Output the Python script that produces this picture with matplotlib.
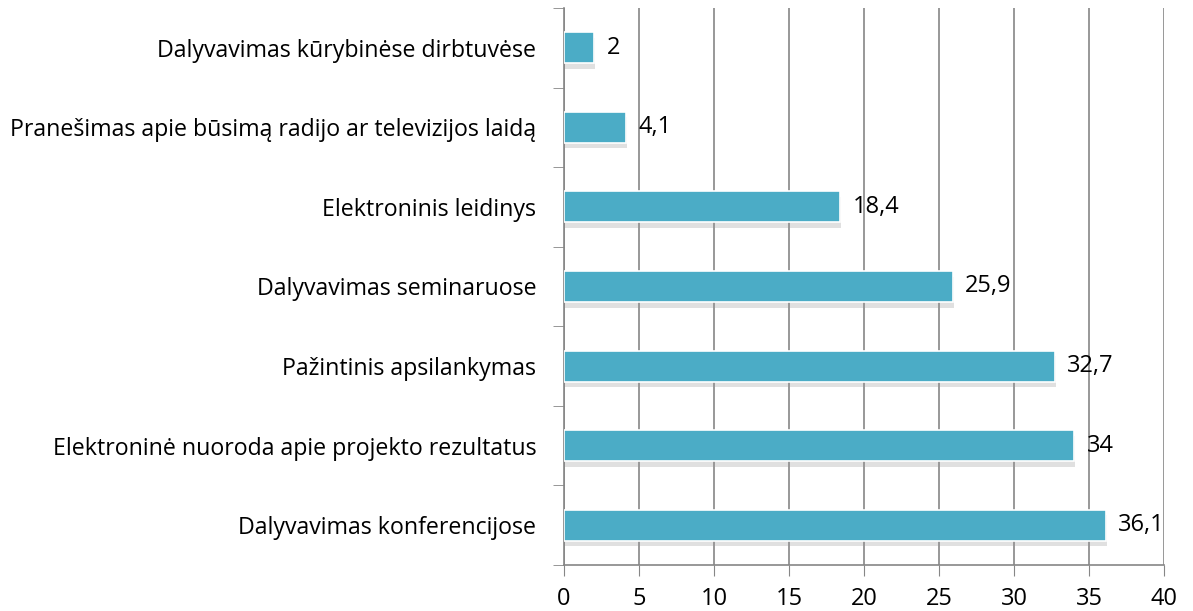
import numpy as np
import matplotlib.pyplot as plt
import matplotlib.patheffects as pe

plt.rcParams['font.family'] = ['Open Sans', 'DejaVu Sans']

categories = ['Dalyvavimas konferencijose',
              'Elektroninė nuoroda apie projekto rezultatus',
              'Pažintinis apsilankymas',
              'Dalyvavimas seminaruose',
              'Elektroninis leidinys',
              'Pranešimas apie būsimą radijo ar televizijos laidą',
              'Dalyvavimas kūrybinėse dirbtuvėse']
values = [36.1, 34, 32.7, 25.9, 18.4, 4.1, 2]
value_labels = ['36,1', '34', '32,7', '25,9', '18,4', '4,1', '2']

fig = plt.figure(figsize=(11.93, 6.11), dpi=100)
ax = fig.add_axes([0.4728, 0.0753, 0.5029, 0.9117])

y = np.arange(len(categories))
bars = ax.barh(y, values, height=0.39, color='#4BACC6', edgecolor='white',
               linewidth=1.2, zorder=3)
for b in bars:
    b.set_path_effects([pe.SimplePatchShadow(offset=(1, -4), shadow_rgbFace='#999999', alpha=0.3),
                        pe.Normal()])

for yi, v, lab in zip(y, values, value_labels):
    ax.text(v + 0.85, yi, lab, va='center', ha='left', fontsize=17, zorder=4)

ax.set_xlim(0, 40)
ax.set_ylim(-0.5, len(categories) - 0.5)
ax.set_xticks(range(0, 41, 5))
ax.set_yticks(y)
ax.set_yticklabels(categories, fontsize=16.7)
ax.set_yticks(np.arange(-0.5, len(categories), 1), minor=True)
ax.tick_params(axis='y', which='major', length=0, pad=20)
ax.tick_params(axis='y', which='minor', length=8, color='#868686', direction='out')
ax.tick_params(axis='x', length=8, color='#868686', labelsize=17, pad=8)
ax.grid(axis='x', color='#868686', linewidth=1.2, zorder=0)

for s in ['top', 'right']:
    ax.spines[s].set_visible(False)
for s in ['left', 'bottom']:
    ax.spines[s].set_color('#868686')
    ax.spines[s].set_linewidth(1.2)

fig.savefig('out.png', dpi=100)
